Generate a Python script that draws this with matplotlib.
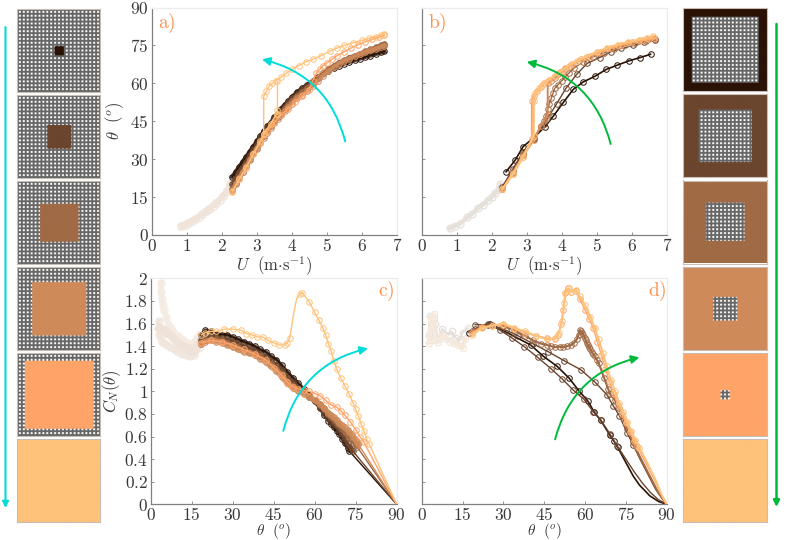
import numpy as np
import matplotlib
matplotlib.use("Agg")
import matplotlib.pyplot as plt
from matplotlib.patches import FancyArrowPatch
from matplotlib.ticker import FormatStrFormatter

plt.rcParams['mathtext.fontset'] = 'cm'
plt.rcParams['font.family'] = 'serif'

W, H = 789.0, 540.0

colors = ['#2a1205', '#6b452d', '#a06a45', '#cf8a5a', '#ffa468', '#ffc27a']
solid_left = [0.11, 0.28, 0.46, 0.65, 0.82, 1.0]
open_right = [0.80, 0.63, 0.46, 0.29, 0.11, 0.0]

# panel a) U (m/s), theta (deg)
a_low_u = [0.85, 0.95, 1.05, 1.15, 1.25, 1.35, 1.45, 1.55, 1.65, 1.75, 1.85, 1.95, 2.05, 2.15, 2.25]
a_low_th = [3.5, 4, 4.7, 5.5, 6.3, 7.2, 8.2, 9.3, 10.4, 11.6, 12.8, 14, 15.5, 17.5, 20]
a_u = [2.3, 2.4, 2.5, 2.6, 2.7, 2.8, 2.9, 3.0, 3.1, 3.2, 3.3, 3.4, 3.5, 3.6, 3.7, 3.8, 3.9, 4.0, 4.15, 4.3,
       4.45, 4.6, 4.75, 4.9, 5.05, 5.2, 5.35, 5.5, 5.65, 5.8, 5.95, 6.1, 6.25, 6.4, 6.55, 6.65]
a_th_0 = [23, 25, 27, 29, 31, 33, 35, 37, 39, 41, 43, 44.5, 46.5, 48, 50, 51.5, 53, 54.5, 56.5, 58,
          59.5, 61, 62.5, 64, 65, 66, 67, 67.8, 68.5, 69.2, 69.8, 70.4, 71, 71.6, 72.2, 72.6]
a_th_1 = [20, 22.5, 25, 27, 29, 31.5, 33.5, 35.5, 38, 40, 42, 44, 45.5, 47.5, 49, 50.5, 52.5, 54, 55.5, 57.5,
          59, 60.5, 62.3, 64, 65.5, 66.8, 68, 69, 70, 70.8, 71.6, 72.4, 73.2, 74, 74.8, 75.3]
a_th_2 = [18, 20.5, 23, 25, 27.5, 30, 32.5, 34.5, 37, 39, 41, 43, 45, 46.5, 48, 50, 51.5, 53, 55, 56.5,
          58, 60, 62, 64, 65.5, 67, 68.2, 69.2, 70.2, 71, 71.8, 72.6, 73.4, 74.2, 75, 75.6]
a_th_3 = [17.5, 20, 22.5, 25, 27, 29.5, 32, 34, 36.5, 38.5, 40.5, 42.5, 44.5, 46, 47.5, 49, 50.5, 52, 54, 55.5,
          57, 59, 61, 63, 64.8, 66.3, 67.7, 68.8, 69.8, 70.7, 71.5, 72.3, 73, 73.7, 74.4, 74.9]
a_u_4 = [2.3, 2.5, 2.7, 2.9, 3.1, 3.3, 3.5, 3.7, 3.9, 4.1, 4.3, 4.5, 4.6, 4.7, 4.8, 4.9, 5.0, 5.15, 5.3, 5.5,
         5.7, 5.9, 6.1, 6.3, 6.5, 6.65]
a_th_4 = [17.5, 22, 27, 32, 36.5, 41, 44.5, 47.5, 50, 52.5, 55, 57.5, 61, 64, 65.5, 67, 68, 69.5, 71, 72.5,
          74, 75.3, 76.4, 77.4, 78.3, 79]
a_u_5 = [3.2, 3.2, 3.28, 3.36, 3.45, 3.55, 3.7, 3.85, 4.0, 4.2, 4.4, 4.6, 4.85, 5.1,
         5.3, 5.5, 5.75, 6.0, 6.2, 6.4, 6.55, 6.65]
a_th_5 = [40, 55, 57, 59, 60, 61, 62.5, 64, 65.5, 67, 68.5, 69.5, 71, 72.8,
          74, 75, 76, 77, 77.8, 78.5, 79.2, 79.5]
a_lower_u_5 = [2.3, 2.5, 2.7, 2.9, 3.1, 3.2, 3.4, 3.57]
a_lower_th_5 = [17, 22, 26.5, 32, 37, 40, 44, 48]
a_jump_u = [3.57, 3.57, 3.57]
a_jump_th = [48, 49.5, 61]

# panel b)
b_low_u = [0.8, 0.95, 1.1, 1.3, 1.45, 1.6, 1.75, 1.9, 2.0, 2.1, 2.2, 2.25]
b_low_th = [2.6, 3.5, 4.5, 7, 8.5, 10.5, 12, 14, 15, 16.5, 18, 20]
b_u_0 = [2.41, 2.67, 2.9, 3.2, 3.52, 3.76, 4.05, 4.33, 4.62, 4.95, 5.27, 5.59, 5.92, 6.24, 6.54]
b_th_0 = [25, 29.6, 35, 38.5, 42.8, 47, 52.5, 57.6, 60.6, 62.8, 65.5, 67.2, 68.9, 70.2, 71.5]
b_u_1 = [2.3, 2.6, 2.9, 3.2, 3.5, 3.86, 4.12, 4.43, 4.73, 5.08, 5.4, 5.7, 6.05, 6.35, 6.67]
b_th_1 = [19, 26, 33, 38, 44, 52, 58, 63.6, 67.9, 70.2, 72.5, 73.8, 75, 76.2, 77]
b_u_2 = [2.3, 2.6, 2.9, 3.2, 3.4, 3.5, 3.55, 3.6, 3.65, 3.7, 3.75, 3.8, 3.9, 4.0, 4.1, 4.2, 4.35, 4.6, 4.9,
         5.2, 5.5, 5.8, 6.1, 6.4, 6.67]
b_th_2 = [18, 25, 32, 38, 43, 45, 47, 50, 52, 54, 56, 58, 59.5, 61, 62.5, 64, 66, 68.5, 70.5,
          72, 73.5, 75, 76, 76.8, 77.5]
b_u_3 = [2.3, 2.6, 2.9, 3.2, 3.4, 3.55, 3.6, 3.6, 3.7, 3.8, 3.9, 4.0, 4.1, 4.25, 4.5, 4.75, 5.0, 5.3, 5.6,
         5.9, 6.2, 6.45, 6.65]
b_th_3 = [18, 24.5, 31.5, 37.5, 43, 46, 48, 60, 61, 62, 63.5, 64.5, 65.5, 67, 69, 70.5, 72, 73.5, 74.8,
          75.8, 76.8, 77.5, 78]
b_u_4 = [2.3, 2.6, 2.9, 3.15, 3.15, 3.2, 3.3, 3.4, 3.5, 3.65, 3.8, 3.95, 4.1, 4.3, 4.55, 4.8, 5.1, 5.4, 5.7,
         6.0, 6.3, 6.5, 6.65]
b_th_4 = [18, 24, 31, 38, 53, 55, 57, 58.5, 60, 61.5, 63, 64.5, 66, 67.5, 69.5, 71, 72.5, 74, 75.3,
          76.2, 77, 77.6, 78]
b_u_5 = [2.3, 2.6, 2.9, 3.2, 3.2, 3.25, 3.35, 3.45, 3.6, 3.8, 4.0, 4.2, 4.45, 4.7, 5.0, 5.3, 5.6, 5.9, 6.2,
         6.45, 6.62]
b_th_5 = [18, 24, 31, 39, 53, 56, 58, 59.5, 61, 63, 65, 67, 69, 70.5, 72.5, 74, 75.3, 76.4, 77.3,
          78, 78.8]

# panel c) theta (deg), C_N
c_low_th_0 = [3.7, 3.8, 4, 4.4, 5, 5.6, 6.5, 7.5, 8.5, 10, 11.5, 13, 14.5, 16, 17.5]
c_low_cn_0 = [1.96, 1.88, 1.82, 1.76, 1.72, 1.66, 1.6, 1.56, 1.52, 1.49, 1.46, 1.44, 1.42, 1.44, 1.5]
c_low_th_1 = [3.0, 3.2, 3.6, 4.2, 5, 6, 7, 8.5, 10, 11.5, 13, 14.5, 16, 17.5]
c_low_cn_1 = [1.62, 1.5, 1.47, 1.44, 1.43, 1.41, 1.39, 1.37, 1.35, 1.33, 1.32, 1.31, 1.32, 1.38]
c_low_th_2 = [3.2, 4, 5, 6, 7.5, 9, 10.5, 12, 13.5, 15, 16.5, 18]
c_low_cn_2 = [1.56, 1.55, 1.54, 1.52, 1.49, 1.45, 1.42, 1.4, 1.38, 1.36, 1.38, 1.44]
c_th = [18.5, 20, 22, 24, 26, 28, 30, 32, 34, 36, 38, 40, 42, 44, 46, 48, 50, 52, 54, 56, 58, 60, 62, 63.5,
        65, 66, 67, 68, 69, 70, 71, 72, 72.7]
c_cn_0 = [1.5, 1.54, 1.53, 1.51, 1.5, 1.5, 1.48, 1.46, 1.44, 1.42, 1.4, 1.37, 1.35, 1.31, 1.28, 1.23, 1.17, 1.12, 1.07,
          1.02, 0.97, 0.91, 0.85, 0.79, 0.74, 0.71, 0.68, 0.65, 0.62, 0.58, 0.54, 0.5, 0.47]
c_th_1 = c_th + [73.5, 74]
c_cn_1 = [1.45, 1.48, 1.49, 1.48, 1.47, 1.46, 1.44, 1.42, 1.4, 1.38, 1.36, 1.33, 1.3, 1.27, 1.23, 1.19, 1.13, 1.08, 1.03,
          1.0, 0.95, 0.91, 0.86, 0.81, 0.77, 0.74, 0.71, 0.69, 0.66, 0.62, 0.58, 0.54, 0.51, 0.49, 0.47]
c_th_2 = c_th + [73.5, 74, 75, 75.5]
c_cn_2 = [1.42, 1.45, 1.46, 1.46, 1.45, 1.43, 1.41, 1.39, 1.37, 1.35, 1.33, 1.31, 1.28, 1.24, 1.2, 1.15, 1.09, 1.05, 1.02,
          1.0, 0.96, 0.92, 0.88, 0.84, 0.8, 0.77, 0.75, 0.72, 0.7, 0.67, 0.64, 0.61, 0.59, 0.57, 0.55, 0.53, 0.51]
c_th_3 = c_th + [73.5, 74, 75, 75.5, 76]
c_cn_3 = [1.42, 1.44, 1.45, 1.44, 1.43, 1.41, 1.39, 1.37, 1.35, 1.34, 1.32, 1.29, 1.26, 1.22, 1.18, 1.13, 1.07, 1.03, 1.0,
          0.98, 0.95, 0.92, 0.89, 0.85, 0.81, 0.79, 0.77, 0.75, 0.72, 0.7, 0.68, 0.66, 0.64, 0.62, 0.6, 0.57, 0.55, 0.53]
c_th_4 = [18.5, 22, 26, 30, 34, 38, 42, 45, 48, 50, 52, 54, 56, 58, 60, 62, 64, 66, 68, 69.5, 71, 73, 75, 76.5, 78]
c_cn_4 = [1.43, 1.45, 1.44, 1.41, 1.37, 1.33, 1.28, 1.21, 1.14, 1.08, 1.04, 1.02, 1.01, 1.0, 0.98, 0.96, 0.92, 0.88,
          0.86, 0.83, 0.79, 0.73, 0.66, 0.6, 0.55]
c_th_5a = [18.5, 20, 22, 24, 27, 30, 33, 35, 37, 39, 41, 43, 45, 47, 49, 50, 50.8]
c_cn_5a = [1.5, 1.52, 1.53, 1.53, 1.55, 1.55, 1.54, 1.51, 1.5, 1.48, 1.48, 1.45, 1.43, 1.41, 1.41, 1.43, 1.47]
c_th_5b = [54.5, 55.5, 58, 60, 61.5, 63, 64, 65, 66, 67, 68, 69.5, 71, 72.5, 74, 75, 76, 77, 78, 79, 80]
c_cn_5b = [1.86, 1.87, 1.79, 1.7, 1.63, 1.56, 1.5, 1.42, 1.36, 1.27, 1.2, 1.12, 1.05, 0.98, 0.9, 0.84, 0.78, 0.71, 0.65,
           0.58, 0.53]
c_line_th = [50.8, 51.6, 52.4, 53.4, 54.5]
c_line_cn = [1.47, 1.58, 1.7, 1.82, 1.86]

# panel d)
d_low_th_0 = [2.5, 3, 3.5, 4.5, 5, 6, 7.5, 10, 11, 12.5, 14, 15, 17]
d_low_cn_0 = [1.5, 1.67, 1.45, 1.65, 1.6, 1.46, 1.55, 1.5, 1.53, 1.47, 1.45, 1.52, 1.56]
d_low_th_1 = [2.5, 3, 3.5, 4.5, 5, 6, 7.5, 9, 10.5, 12, 13.5, 15, 16]
d_low_cn_1 = [1.43, 1.5, 1.65, 1.68, 1.45, 1.44, 1.49, 1.46, 1.44, 1.43, 1.41, 1.38, 1.46]
d_th_0 = [17.5, 25, 40, 44.7, 49.8, 54.2, 57.9, 61, 63.4, 65.7, 69.2, 70.6, 72]
d_cn_0 = [1.52, 1.6, 1.41, 1.31, 1.22, 1.115, 1.0, 0.915, 0.815, 0.745, 0.61, 0.56, 0.505]
d_tail_th_0 = [75, 77.7, 80, 83.8, 87, 90]
d_tail_cn_0 = [0.37, 0.25, 0.17, 0.075, 0.025, 0]
d_th_1 = [19.5, 24.5, 28.8, 33, 37.7, 42.6, 47.5, 51.6, 55.7, 59.6, 63, 65.7, 69.2, 71.7]
d_cn_1 = [1.55, 1.6, 1.54, 1.475, 1.395, 1.3, 1.2, 1.11, 1.01, 0.93, 0.82, 0.75, 0.62, 0.52]
d_tail_th_1 = [75, 78, 81, 84, 87, 90]
d_tail_cn_1 = [0.4, 0.29, 0.19, 0.105, 0.04, 0]
d_th_2 = [19.6, 24.5, 31, 35.5, 41, 46.5, 52.4, 58.5, 63.7, 68, 70.4, 72.6, 75.5, 77.7]
d_cn_2 = [1.59, 1.59, 1.54, 1.49, 1.42, 1.35, 1.27, 1.19, 1.08, 0.97, 0.87, 0.785, 0.63, 0.525]
d_tail_th_2 = [80, 83, 86, 90]
d_tail_cn_2 = [0.41, 0.27, 0.13, 0]
d_th_3 = [18.5, 22, 26, 30, 34, 38, 41, 44, 46, 47.5, 49, 50.8, 52, 53.5, 55, 56, 57, 57.6, 58.1, 58.6, 59, 59.4, 60,
          60.3, 60.6, 61, 61.5, 62, 62.4, 63, 63.6, 64.3, 65, 67, 68.5, 69.2, 71, 72.5, 74, 75.5, 77.5]
d_cn_3 = [1.53, 1.57, 1.59, 1.58, 1.54, 1.49, 1.45, 1.42, 1.41, 1.4, 1.39, 1.395, 1.39, 1.4, 1.41, 1.43, 1.46, 1.5, 1.54,
          1.53, 1.52, 1.5, 1.47, 1.45, 1.43, 1.41, 1.39, 1.37, 1.35, 1.33, 1.31, 1.28, 1.25, 1.12, 1.02, 0.98, 0.92, 0.85,
          0.76, 0.67, 0.55]
d_tail_th_3 = [81, 84, 87, 90]
d_tail_cn_3 = [0.38, 0.24, 0.1, 0]
d_th_4 = [18.5, 22, 26, 30, 34, 38, 42, 46, 49, 50.2, 51.2, 52, 52.6, 53.2, 53.9, 55, 56.7, 58, 60, 61.5, 63, 64.5, 66,
          67.5, 69, 70.5, 72, 73.5, 75, 76.5, 78, 79]
d_cn_4 = [1.52, 1.57, 1.58, 1.59, 1.55, 1.52, 1.49, 1.47, 1.46, 1.5, 1.6, 1.72, 1.87, 1.89, 1.91, 1.88, 1.89, 1.82, 1.72,
          1.64, 1.56, 1.44, 1.32, 1.2, 1.08, 0.98, 0.88, 0.8, 0.72, 0.64, 0.56, 0.52]
d_tail_th_4 = [82, 85, 88, 90]
d_tail_cn_4 = [0.38, 0.24, 0.09, 0]
d_th_5 = [18.5, 22, 26, 30, 34, 38, 42, 46, 49, 50.5, 51.5, 52.4, 53, 54, 55, 56.5, 58, 60, 62, 63.5, 65, 66.5, 68,
          69.5, 71, 72.5, 74, 75.5, 77, 78.5, 80]
d_cn_5 = [1.5, 1.56, 1.58, 1.6, 1.56, 1.53, 1.49, 1.46, 1.47, 1.52, 1.62, 1.78, 1.88, 1.91, 1.88, 1.9, 1.84, 1.76,
          1.66, 1.56, 1.46, 1.34, 1.22, 1.1, 1.0, 0.9, 0.82, 0.73, 0.65, 0.57, 0.5]
d_tail_th_5 = [83, 86, 88, 90]
d_tail_cn_5 = [0.36, 0.21, 0.09, 0]


def axes_px(x0, y0, x1, y1):
    return fig.add_axes([x0 / W, 1 - y1 / H, (x1 - x0) / W, (y1 - y0) / H])


def mesh_tile(color, inner, outer_solid):
    # 21 x 21 holes, wire grey, holes white, coloured plate on top
    n = 21 * 8 + 4
    img = np.ones((n, n, 3)) * 0.40
    for i in range(21):
        for j in range(21):
            img[4 + i * 8:8 + i * 8, 4 + j * 8:8 + j * 8] = 1.0
    rgb = matplotlib.colors.to_rgb(color)
    yy, xx = np.mgrid[0:n, 0:n]
    d = np.maximum(abs(xx - n / 2), abs(yy - n / 2)) / (n / 2)
    img[(d >= inner) if outer_solid else (d <= inner)] = rgb
    return img


def tile(x0, y0, img):
    ax = axes_px(x0, y0, x0 + 83.4, y0 + 83)
    ax.imshow(img, aspect='auto', interpolation='antialiased')
    ax.set_xticks([])
    ax.set_yticks([])
    for s in ax.spines.values():
        s.set_color('#c8bdb5')
        s.set_linewidth(0.8)


def style(ax, xlim, ylim, xticks, yticks, ylabels):
    ax.set_xlim(xlim)
    ax.set_ylim(ylim)
    ax.set_xticks(xticks)
    ax.set_yticks(yticks)
    ax.xaxis.set_major_formatter(FormatStrFormatter('$%g$'))
    ax.yaxis.set_major_formatter(FormatStrFormatter('$%g$'))
    if not ylabels:
        ax.set_yticklabels([])
    ax.tick_params(direction='in', length=2.5, width=0.6, color='#808080', labelcolor='#383838',
                   labelsize=12.5, pad=2)
    for name, s in ax.spines.items():
        s.set_color('#808080' if name in ('left', 'bottom') else '#ececec')
        s.set_linewidth(0.9)


def series(ax, x, y, color, tail_x=(), tail_y=(), lw=1.0, ms=4.0, band=0):
    ax.plot(list(x) + list(tail_x), list(y) + list(tail_y), color=color, lw=lw, zorder=3)
    if band:
        ax.plot(x, y, color=color, lw=band, zorder=3, alpha=0.8)
    ax.plot(x, y, ls='none', marker='o', ms=ms, mfc='none', mec=color, mew=0.7, zorder=3)


def pale(ax, x, y, color='#efe3da', ms=5.0, lw=2.5):
    ax.plot(x, y, color=color, lw=lw, marker='o', ms=ms, mfc='none', mec=color, mew=0.9, zorder=2)


def curved(ax, start, end, color, rad):
    ax.add_patch(FancyArrowPatch(start, end, connectionstyle='arc3,rad=%g' % rad, arrowstyle='-|>',
                                 mutation_scale=12, color=color, lw=1.4, zorder=6, shrinkA=0, shrinkB=0))


fig = plt.figure(figsize=(W / 100, H / 100), dpi=100)

# schematic tiles on both sides
for k in range(6):
    tile(16.8, 8.6 + k * 86.1, mesh_tile(colors[k], solid_left[k], False))
    tile(683.3, 8.3 + k * 86.1, mesh_tile(colors[k], open_right[k], True))

ax_a = axes_px(151.7, 7.5, 396.7, 235)
ax_b = axes_px(421.7, 7.5, 666.7, 235)
ax_c = axes_px(150.7, 278.3, 396.7, 504.3)
ax_d = axes_px(421.7, 278.3, 666.7, 504.3)

pale(ax_a, a_low_u, a_low_th, ms=5.5, lw=4)
series(ax_a, a_u, a_th_0, colors[0], band=3)
series(ax_a, a_u, a_th_1, colors[1], band=3)
series(ax_a, a_u, a_th_2, colors[2], band=3)
series(ax_a, a_u, a_th_3, colors[3], band=3)
series(ax_a, a_u_4, a_th_4, colors[4])
series(ax_a, a_lower_u_5, a_lower_th_5, colors[5], lw=1.0)
series(ax_a, a_jump_u, a_jump_th, colors[5])
series(ax_a, a_u_5, a_th_5, colors[5])

pale(ax_b, b_low_u, b_low_th, color='#e6e0da', lw=3)
series(ax_b, b_u_0, b_th_0, colors[0], lw=1.2)
series(ax_b, b_u_1, b_th_1, colors[1])
series(ax_b, b_u_2, b_th_2, colors[2])
series(ax_b, b_u_3, b_th_3, colors[3], lw=1.4)
series(ax_b, b_u_4, b_th_4, colors[4], lw=1.6)
series(ax_b, b_u_5, b_th_5, colors[5], lw=1.6)

pale(ax_c, c_low_th_0, c_low_cn_0, color='#f4ebe3', lw=4)
pale(ax_c, c_low_th_1, c_low_cn_1, color='#f1e6de', lw=4)
pale(ax_c, c_low_th_2, c_low_cn_2, color='#eee2d9', lw=6)
series(ax_c, c_th, c_cn_0, colors[0], [90], [0], band=2.5)
series(ax_c, c_th_1, c_cn_1, colors[1], [90], [0], band=3)
series(ax_c, c_th_2, c_cn_2, colors[2], [90], [0], band=3)
series(ax_c, c_th_3, c_cn_3, colors[3], [90], [0], band=4)
series(ax_c, c_th_4, c_cn_4, colors[4], [90], [0])
ax_c.plot(c_line_th, c_line_cn, color=colors[5], lw=1.0, zorder=3)
series(ax_c, c_th_5a, c_cn_5a, colors[5])
series(ax_c, c_th_5b, c_cn_5b, colors[5], [90], [0])

pale(ax_d, d_low_th_0, d_low_cn_0, color='#e6e0da', ms=4.6, lw=1.5)
pale(ax_d, d_low_th_1, d_low_cn_1, color='#f5e9dd', ms=4.6, lw=3)
series(ax_d, d_th_0, d_cn_0, colors[0], d_tail_th_0, d_tail_cn_0, lw=1.2)
series(ax_d, d_th_1, d_cn_1, colors[1], d_tail_th_1, d_tail_cn_1)
series(ax_d, d_th_2, d_cn_2, colors[1], d_tail_th_2, d_tail_cn_2)
series(ax_d, d_th_3, d_cn_3, colors[2], d_tail_th_3, d_tail_cn_3, lw=1.5)
series(ax_d, d_th_4, d_cn_4, colors[4], d_tail_th_4, d_tail_cn_4)
series(ax_d, d_th_5, d_cn_5, colors[5], d_tail_th_5, d_tail_cn_5, lw=1.5)

style(ax_a, (0, 7), (0, 90), range(8), range(0, 91, 15), True)
style(ax_b, (0, 7), (0, 90), range(8), range(0, 91, 15), False)
style(ax_c, (0, 90), (0, 2), range(0, 91, 15), np.arange(0, 2.01, 0.2), True)
style(ax_d, (0, 90), (0, 2), range(0, 91, 15), np.arange(0, 2.01, 0.2), False)

u_label = r'$U\ \ (\mathrm{m{\cdot}s^{-1}})$'
t_label = r'$\theta\ \ (^o)$'
for ax in (ax_a, ax_b):
    ax.set_xlabel(u_label, fontsize=12, color='#383838', labelpad=0)
for ax in (ax_c, ax_d):
    ax.set_xlabel(t_label, fontsize=11, color='#383838', labelpad=-2)
ax_a.set_ylabel(t_label, fontsize=12, color='#383838', labelpad=3)
ax_c.set_ylabel(r'$C_N(\theta)$', fontsize=12, color='#383838', labelpad=1)

orange = '#ff9050'
ax_a.text(0.025, 0.93, r'$\mathrm{a)}$', transform=ax_a.transAxes, color=orange, fontsize=14, va='center')
ax_b.text(0.025, 0.93, r'$\mathrm{b)}$', transform=ax_b.transAxes, color=orange, fontsize=14, va='center')
ax_c.text(0.925, 0.94, r'$\mathrm{c)}$', transform=ax_c.transAxes, color=orange, fontsize=14, va='center')
ax_d.text(0.925, 0.94, r'$\mathrm{d)}$', transform=ax_d.transAxes, color=orange, fontsize=14, va='center')

cyan = '#00dcd8'
green = '#00b93c'
curved(ax_a, (5.53, 37), (3.15, 69.5), cyan, 0.3)
curved(ax_b, (5.4, 36), (3.0, 68.5), green, 0.3)
curved(ax_c, (48.5, 0.65), (79.5, 1.38), cyan, -0.3)
curved(ax_d, (49, 0.575), (80, 1.3), green, -0.3)

fig.add_artist(FancyArrowPatch((5.5 / W, 1 - 27 / H), (5.5 / W, 1 - 508 / H), transform=fig.transFigure,
                               arrowstyle='-|>', mutation_scale=9, color=cyan, lw=1.5, shrinkA=0, shrinkB=0))
fig.add_artist(FancyArrowPatch((776.5 / W, 1 - 24 / H), (776.5 / W, 1 - 507 / H), transform=fig.transFigure,
                               arrowstyle='-|>', mutation_scale=9, color=green, lw=1.8, shrinkA=0, shrinkB=0))

fig.savefig('out.png', dpi=100)
